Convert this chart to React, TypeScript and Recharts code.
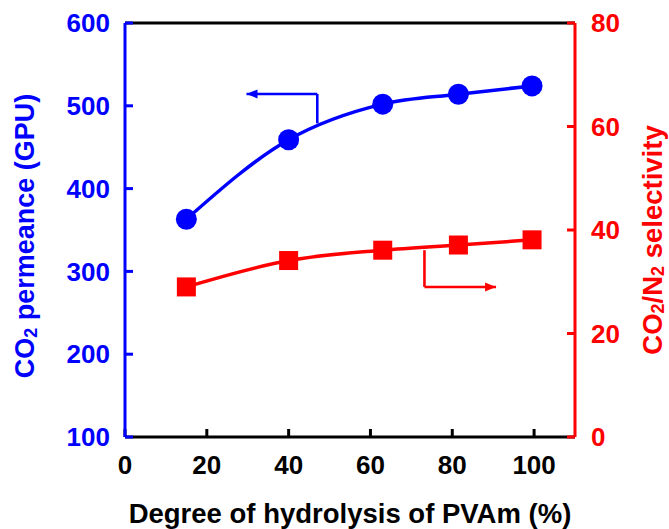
import React from 'react';
import { LineChart, Line, XAxis, YAxis, ReferenceLine } from 'recharts';

const hydrolysis = [15, 40, 63, 81.5, 99.5];
const permeance = [363, 459, 502, 514, 524];
const selectivity = [29, 34.1, 36.1, 37.1, 38.1];
const xTicks = [0, 20, 40, 60, 80, 100];
const leftTicks = [100, 200, 300, 400, 500, 600];
const rightTicks = [0, 20, 40, 60, 80];

const data = hydrolysis.map((x, i) => ({ x, perm: permeance[i], sel: selectivity[i] }));

const BLUE = '#0000FF';
const RED = '#FF0000';
const FONT = '"Liberation Sans", Arial, sans-serif';

const CircleDot = (props: any) => {
  const { cx, cy } = props;
  if (cx == null || cy == null) return null;
  return <circle cx={cx} cy={cy} r={10.5} fill={BLUE} />;
};

const SquareDot = (props: any) => {
  const { cx, cy } = props;
  if (cx == null || cy == null) return null;
  return <rect x={cx - 9.5} y={cy - 9.5} width={19} height={19} fill={RED} />;
};

const arrowShape = (head: 'start' | 'end' | 'none', color: string) => (props: any) => {
  const { x1, y1, x2, y2 } = props;
  if ([x1, y1, x2, y2].some((v) => v == null || isNaN(v))) return null;
  let headEl = null;
  const len = 11;
  const half = 4.5;
  if (head !== 'none') {
    const tx = head === 'start' ? x1 : x2;
    const ty = head === 'start' ? y1 : y2;
    const ox = head === 'start' ? x2 : x1;
    const oy = head === 'start' ? y2 : y1;
    const dx = tx - ox;
    const dy = ty - oy;
    const d = Math.hypot(dx, dy) || 1;
    const ux = dx / d;
    const uy = dy / d;
    const bx = tx - ux * len;
    const by = ty - uy * len;
    const pts = `${tx},${ty} ${bx - uy * half},${by + ux * half} ${bx + uy * half},${by - ux * half}`;
    headEl = <polygon points={pts} fill={color} />;
  }
  return (
    <g>
      <line x1={x1} y1={y1} x2={x2} y2={y2} stroke={color} strokeWidth={2.6} />
      {headEl}
    </g>
  );
};

const XTitle = (props: any) => {
  const vb = props.viewBox || {};
  return (
    <text
      x={vb.x + vb.width / 2}
      y={vb.y + 86}
      textAnchor="middle"
      fontFamily={FONT}
      fontWeight="bold"
      fontSize={27.5}
      fill="#000"
    >
      Degree of hydrolysis of PVAm (%)
    </text>
  );
};

const LeftTitle = (props: any) => {
  const vb = props.viewBox || {};
  const cx = vb.x + 25;
  const cy = vb.y + vb.height / 2 + 6;
  return (
    <text
      x={cx}
      y={cy}
      transform={`rotate(-90, ${cx}, ${cy})`}
      textAnchor="middle"
      dominantBaseline="central"
      fontFamily={FONT}
      fontWeight="bold"
      fontSize={27}
      fill={BLUE}
    >
      CO
      <tspan fontSize={18} dy={6}>2</tspan>
      <tspan dy={-6}> permeance (GPU)</tspan>
    </text>
  );
};

const RightTitle = (props: any) => {
  const vb = props.viewBox || {};
  const cx = vb.x + 77;
  const cy = vb.y + vb.height / 2 + 10;
  return (
    <text
      x={cx}
      y={cy}
      transform={`rotate(-90, ${cx}, ${cy})`}
      textAnchor="middle"
      dominantBaseline="central"
      fontFamily={FONT}
      fontWeight="bold"
      fontSize={27.5}
      fill={RED}
    >
      CO
      <tspan fontSize={18} dy={6}>2</tspan>
      <tspan dy={-6}>/N</tspan>
      <tspan fontSize={18} dy={6}>2</tspan>
      <tspan dy={-6}> selectivity</tspan>
    </text>
  );
};

const tickFont = { fontFamily: FONT, fontWeight: 'bold', fontSize: 26 } as const;

export default function App() {
  return (
    <div style={{ position: 'absolute', left: 0, top: 0, background: '#fff' }}>
      <LineChart width={669} height={529} data={data} margin={{ top: 23, right: 0, bottom: 0, left: 0 }}>
        <XAxis
          dataKey="x"
          type="number"
          domain={[0, 110]}
          ticks={xTicks}
          interval={0}
          height={92}
          tickSize={-8}
          tickMargin={27}
          axisLine={{ stroke: '#000', strokeWidth: 3 }}
          tickLine={{ stroke: '#000', strokeWidth: 3 }}
          tick={{ ...tickFont, fill: '#000' }}
          label={<XTitle />}
        />
        <YAxis
          yAxisId="left"
          orientation="left"
          type="number"
          domain={[100, 600]}
          ticks={leftTicks}
          interval={0}
          width={125}
          tickSize={-8}
          tickMargin={23}
          axisLine={{ stroke: BLUE, strokeWidth: 3 }}
          tickLine={{ stroke: BLUE, strokeWidth: 3 }}
          tick={{ ...tickFont, fill: BLUE }}
          label={<LeftTitle />}
        />
        <YAxis
          yAxisId="right"
          orientation="right"
          type="number"
          domain={[0, 80]}
          ticks={rightTicks}
          interval={0}
          width={94}
          tickSize={-8}
          tickMargin={24}
          axisLine={{ stroke: RED, strokeWidth: 3 }}
          tickLine={{ stroke: RED, strokeWidth: 3 }}
          tick={{ ...tickFont, fill: RED }}
          label={<RightTitle />}
        />
        <ReferenceLine yAxisId="left" y={600} stroke="#000" strokeWidth={3} />
        <ReferenceLine
          yAxisId="left"
          segment={[{ x: 29.7, y: 514.3 }, { x: 47, y: 514.3 }]}
          shape={arrowShape('start', BLUE)}
        />
        <ReferenceLine
          yAxisId="left"
          segment={[{ x: 47, y: 514.3 }, { x: 47, y: 478.9 }]}
          shape={arrowShape('none', BLUE)}
        />
        <ReferenceLine
          yAxisId="right"
          segment={[{ x: 73.2, y: 36.1 }, { x: 73.2, y: 29.0 }]}
          shape={arrowShape('none', RED)}
        />
        <ReferenceLine
          yAxisId="right"
          segment={[{ x: 73.2, y: 29.0 }, { x: 90.7, y: 29.0 }]}
          shape={arrowShape('end', RED)}
        />
        <Line
          yAxisId="left"
          dataKey="perm"
          type="monotone"
          stroke={BLUE}
          strokeWidth={3.5}
          dot={<CircleDot />}
          activeDot={false}
          isAnimationActive={false}
        />
        <Line
          yAxisId="right"
          dataKey="sel"
          type="monotone"
          stroke={RED}
          strokeWidth={3.5}
          dot={<SquareDot />}
          activeDot={false}
          isAnimationActive={false}
        />
      </LineChart>
    </div>
  );
}
